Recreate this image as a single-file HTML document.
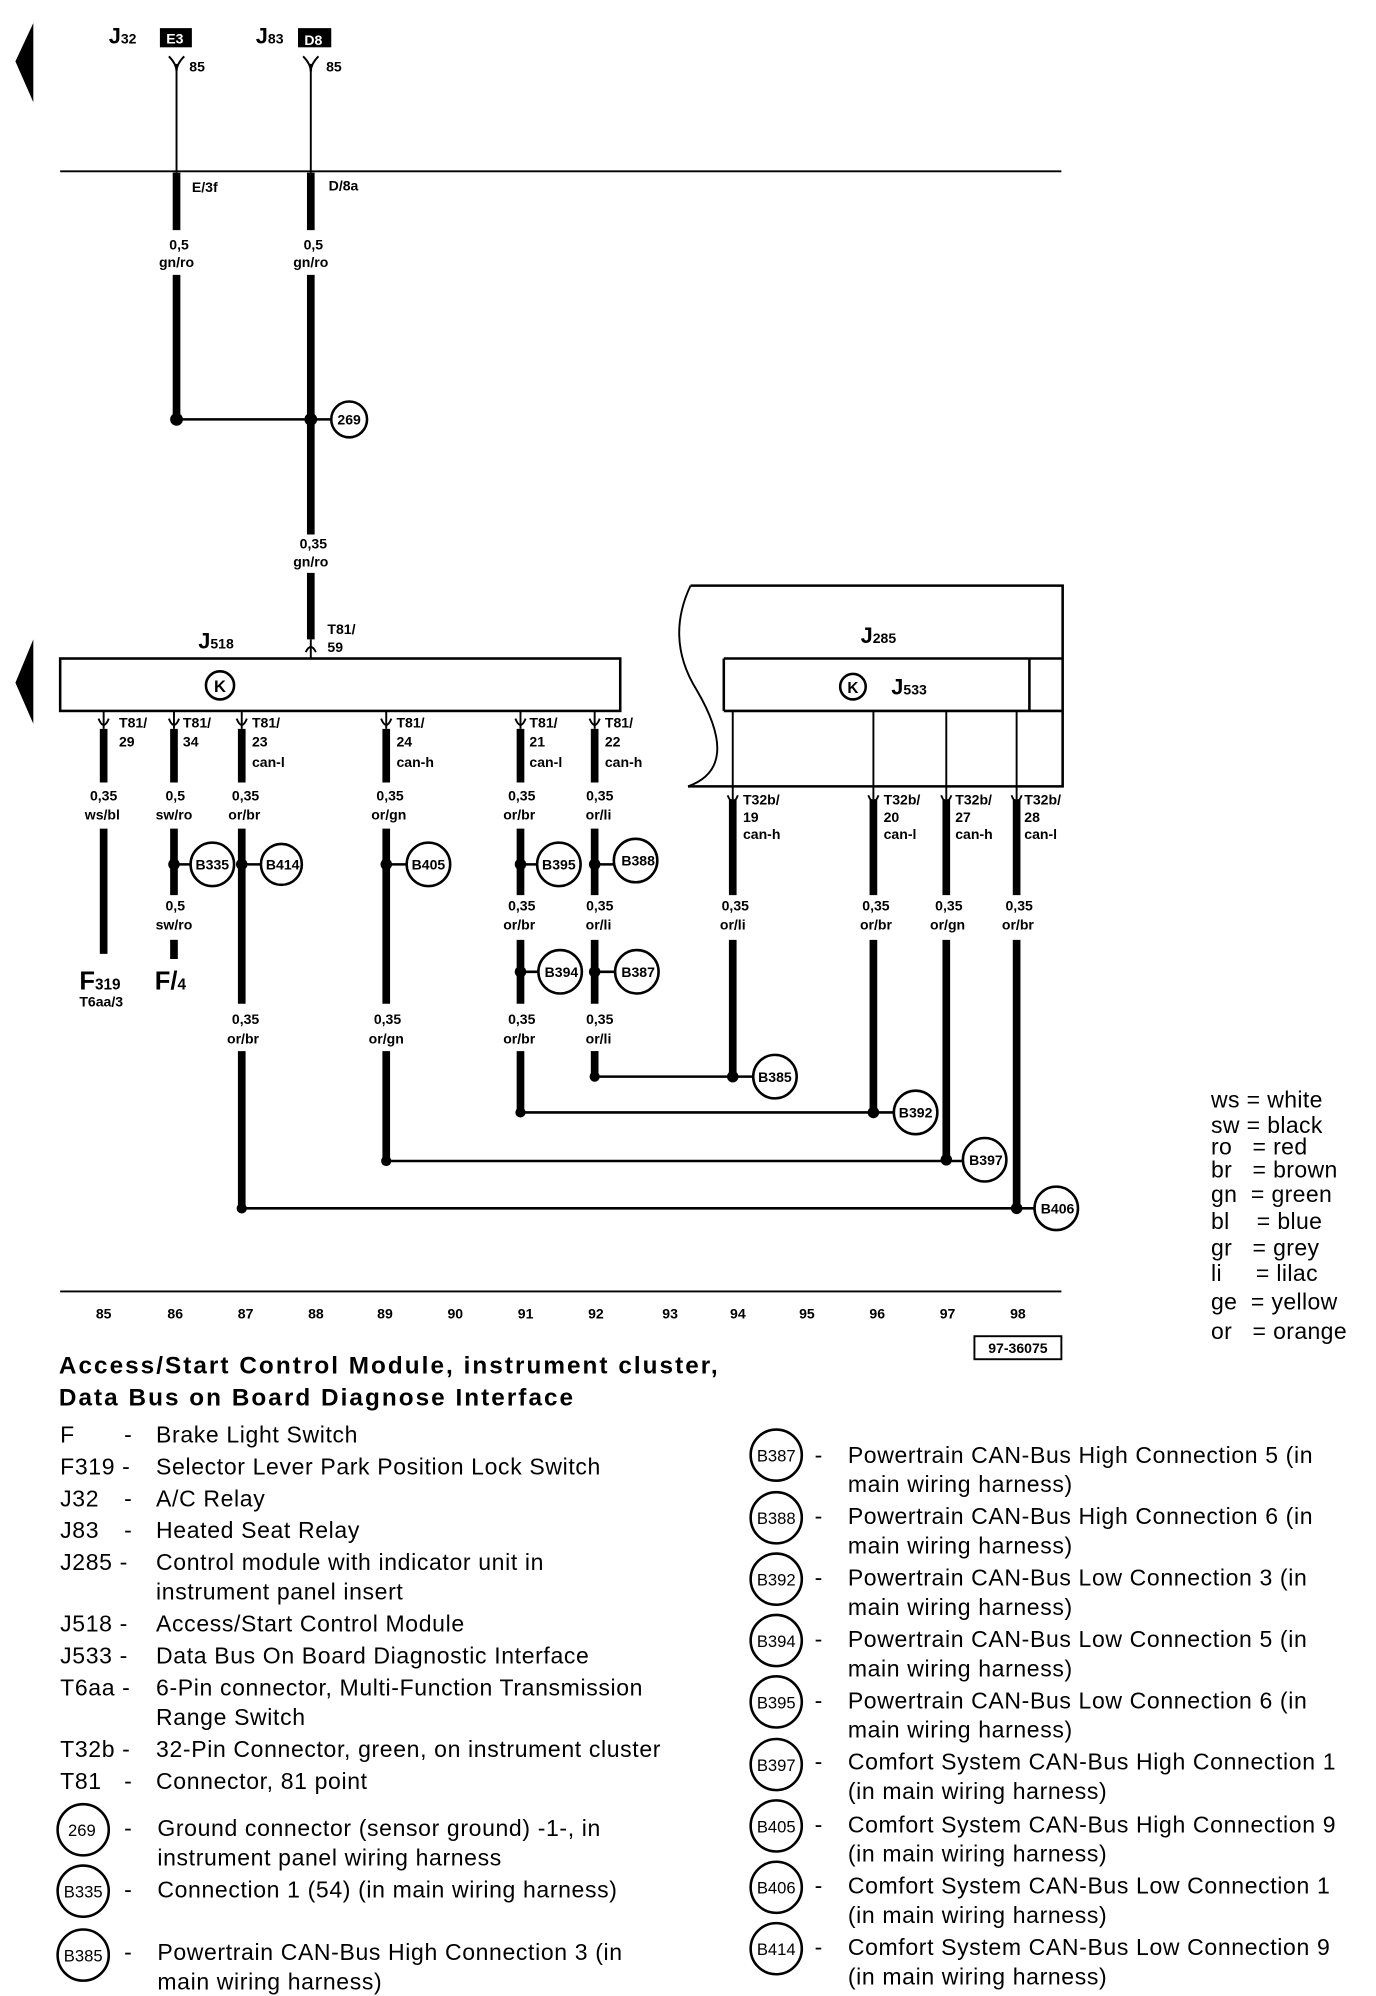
<!DOCTYPE html>
<html><head><meta charset="utf-8"><style>
html,body{margin:0;padding:0;background:#fff}
svg{display:block}
.b{font-family:"Liberation Sans",sans-serif;font-weight:bold;font-size:11px}
.l{font-family:"Liberation Sans",sans-serif;font-size:18px;letter-spacing:0.5px}
.c{font-family:"Liberation Sans",sans-serif;font-size:13px}
.t{font-family:"Liberation Sans",sans-serif;font-weight:bold;font-size:19px;letter-spacing:1.6px}
</style></head><body>
<svg width="1376" height="1996" viewBox="0 0 1076 1561" xmlns="http://www.w3.org/2000/svg">
<g fill="#000">
<polygon points="26,18 12,48 26,80"/>
<polygon points="26,500 12,534 26,566"/>
</g>
<text x="85" y="34" class="b" style="font-size:17px">J<tspan font-size="11">32</tspan></text>
<rect x="125" y="22" width="25" height="15" fill="#000"/><text x="130" y="34" class="b" fill="#fff">E3</text>
<text x="200" y="34" class="b" style="font-size:17px">J<tspan font-size="11">83</tspan></text>
<rect x="233" y="22" width="26" height="15" fill="#000"/><text x="238" y="35" class="b" fill="#fff">D8</text>
<g stroke="#000" fill="none" stroke-width="1.5">
<path d="M132,44 Q138,50 138,56 Q138,50 144,44"/>
<path d="M237,44 Q243,50 243,56 Q243,50 249,44"/>
<line x1="138" y1="50" x2="138" y2="135"/>
<line x1="243" y1="50" x2="243" y2="135"/>
<line x1="47" y1="134" x2="830" y2="134"/>
<line x1="47" y1="1010" x2="830" y2="1010"/>
</g>
<text x="148" y="56" class="b">85</text><text x="255" y="56" class="b">85</text>
<text x="150" y="150" class="b">E/3f</text><text x="257" y="149" class="b">D/8a</text>
<g stroke="#000" stroke-width="6">
<line x1="138" y1="135" x2="138" y2="180"/><line x1="138" y1="215" x2="138" y2="328"/>
<line x1="243" y1="135" x2="243" y2="180"/><line x1="243" y1="215" x2="243" y2="418"/>
<line x1="243" y1="448" x2="243" y2="500"/>
</g>
<g stroke="#000" stroke-width="2"><line x1="138" y1="328" x2="259" y2="328"/></g>
<circle cx="138" cy="328" r="5"/><circle cx="243" cy="328" r="5"/>
<circle cx="273" cy="328" r="14" fill="#fff" stroke="#000" stroke-width="2"/>
<text x="273" y="332" class="b" text-anchor="middle">269</text>
<g class="b" text-anchor="middle">
<text x="140" y="195">0,5</text><text x="138" y="209">gn/ro</text>
<text x="245" y="195">0,5</text><text x="243" y="209">gn/ro</text>
<text x="245" y="429">0,35</text><text x="243" y="443">gn/ro</text>
</g>
<rect x="47" y="515" width="438" height="41" fill="none" stroke="#000" stroke-width="2"/>
<text x="155" y="507" class="b" style="font-size:17px">J<tspan font-size="11">518</tspan></text>
<circle cx="172" cy="536" r="11" fill="none" stroke="#000" stroke-width="2"/>
<text x="172" y="541" class="b" text-anchor="middle" style="font-size:13px">K</text>
<line x1="243" y1="500" x2="243" y2="515" stroke="#000" stroke-width="1.5"/>
<path d="M239,510 Q243,502 247,510" stroke="#000" fill="none" stroke-width="1.5"/>
<text x="256" y="496" class="b">T81/</text><text x="256" y="510" class="b">59</text>
<g stroke="#000" fill="none" stroke-width="2">
<path d="M540,458 L831,458 L831,615 L538,615"/>
<path d="M540,458 Q520,500 545,540 Q580,600 538,615" stroke-width="1.5"/>
<line x1="566" y1="515" x2="831" y2="515"/><line x1="566" y1="556" x2="831" y2="556"/>
<line x1="566" y1="515" x2="566" y2="556"/><line x1="805" y1="515" x2="805" y2="556"/>
</g>
<text x="673" y="503" class="b" style="font-size:17px">J<tspan font-size="11">285</tspan></text>
<circle cx="667" cy="537" r="10" fill="none" stroke="#000" stroke-width="2"/>
<text x="667" y="542" class="b" text-anchor="middle" style="font-size:12px">K</text>
<text x="697" y="543" class="b" style="font-size:17px">J<tspan font-size="11">533</tspan></text>
<g stroke="#000" stroke-width="1.5">
<line x1="573" y1="556" x2="573" y2="625"/><line x1="683" y1="556" x2="683" y2="625"/>
<line x1="740" y1="556" x2="740" y2="625"/><line x1="795" y1="556" x2="795" y2="625"/>
</g>
<g stroke="#000" fill="none" stroke-width="1.5">
<path d="M77,562 Q81,572 85,562"/><path d="M132,562 Q136,572 140,562"/><path d="M185,562 Q189,572 193,562"/>
<path d="M298,562 Q302,572 306,562"/><path d="M403,562 Q407,572 411,562"/><path d="M461,562 Q465,572 469,562"/>
<path d="M569,622 Q573,632 577,622"/><path d="M679,622 Q683,632 687,622"/><path d="M736,622 Q740,632 744,622"/><path d="M791,622 Q795,632 799,622"/>
<line x1="81" y1="556" x2="81" y2="570"/><line x1="136" y1="556" x2="136" y2="570"/><line x1="189" y1="556" x2="189" y2="570"/>
<line x1="302" y1="556" x2="302" y2="570"/><line x1="407" y1="556" x2="407" y2="570"/><line x1="465" y1="556" x2="465" y2="570"/>
</g>
<g class="b">
<text x="93" y="569">T81/</text><text x="93" y="584">29</text>
<text x="143" y="569">T81/</text><text x="143" y="584">34</text>
<text x="197" y="569">T81/</text><text x="197" y="584">23</text><text x="197" y="600">can-l</text>
<text x="310" y="569">T81/</text><text x="310" y="584">24</text><text x="310" y="600">can-h</text>
<text x="414" y="569">T81/</text><text x="414" y="584">21</text><text x="414" y="600">can-l</text>
<text x="473" y="569">T81/</text><text x="473" y="584">22</text><text x="473" y="600">can-h</text>
<text x="581" y="629">T32b/</text><text x="581" y="643">19</text><text x="581" y="656">can-h</text>
<text x="691" y="629">T32b/</text><text x="691" y="643">20</text><text x="691" y="656">can-l</text>
<text x="747" y="629">T32b/</text><text x="747" y="643">27</text><text x="747" y="656">can-h</text>
<text x="801" y="629">T32b/</text><text x="801" y="643">28</text><text x="801" y="656">can-l</text>
</g>
<g stroke="#000" stroke-width="6">
<line x1="81" y1="570" x2="81" y2="612"/><line x1="81" y1="648" x2="81" y2="746"/>
<line x1="136" y1="570" x2="136" y2="612"/><line x1="136" y1="648" x2="136" y2="700"/><line x1="136" y1="735" x2="136" y2="750"/>
<line x1="189" y1="570" x2="189" y2="612"/><line x1="189" y1="648" x2="189" y2="785"/><line x1="189" y1="822" x2="189" y2="945"/>
<line x1="302" y1="570" x2="302" y2="612"/><line x1="302" y1="648" x2="302" y2="785"/><line x1="302" y1="822" x2="302" y2="908"/>
<line x1="407" y1="570" x2="407" y2="612"/><line x1="407" y1="648" x2="407" y2="700"/><line x1="407" y1="735" x2="407" y2="785"/><line x1="407" y1="822" x2="407" y2="870"/>
<line x1="465" y1="570" x2="465" y2="612"/><line x1="465" y1="648" x2="465" y2="700"/><line x1="465" y1="735" x2="465" y2="785"/><line x1="465" y1="822" x2="465" y2="842"/>
<line x1="573" y1="625" x2="573" y2="700"/><line x1="573" y1="735" x2="573" y2="842"/>
<line x1="683" y1="625" x2="683" y2="700"/><line x1="683" y1="735" x2="683" y2="870"/>
<line x1="740" y1="625" x2="740" y2="700"/><line x1="740" y1="735" x2="740" y2="907"/>
<line x1="795" y1="625" x2="795" y2="700"/><line x1="795" y1="735" x2="795" y2="945"/>
</g>
<g stroke="#000" stroke-width="2">
<line x1="465" y1="842" x2="590" y2="842"/><line x1="407" y1="870" x2="700" y2="870"/>
<line x1="302" y1="908" x2="754" y2="908"/><line x1="189" y1="945" x2="810" y2="945"/>
<line x1="136" y1="676" x2="150" y2="676"/><line x1="189" y1="676" x2="204" y2="676"/>
<line x1="302" y1="676" x2="318" y2="676"/><line x1="407" y1="676" x2="420" y2="676"/>
<line x1="465" y1="676" x2="480" y2="676"/><line x1="407" y1="760" x2="421" y2="760"/><line x1="465" y1="760" x2="481" y2="760"/>
</g>
<g>
<circle cx="136" cy="676" r="4.5"/><circle cx="189" cy="676" r="4.5"/><circle cx="302" cy="676" r="4.5"/>
<circle cx="407" cy="676" r="4.5"/><circle cx="465" cy="676" r="4.5"/><circle cx="407" cy="760" r="4.5"/><circle cx="465" cy="760" r="4.5"/>
<circle cx="573" cy="842" r="4.5"/><circle cx="683" cy="870" r="4.5"/><circle cx="740" cy="907" r="4.5"/><circle cx="795" cy="945" r="4.5"/>
<circle cx="465" cy="842" r="4"/><circle cx="407" cy="870" r="4"/><circle cx="302" cy="908" r="4"/><circle cx="189" cy="945" r="4"/>
</g>
<g fill="#fff" stroke="#000" stroke-width="2">
<circle cx="166" cy="676" r="17"/><circle cx="220" cy="676" r="16"/><circle cx="335" cy="676" r="17"/>
<circle cx="437" cy="676" r="17"/><circle cx="497" cy="673" r="17"/><circle cx="438" cy="760" r="17"/><circle cx="498" cy="760" r="17"/>
<circle cx="606" cy="842" r="17"/><circle cx="716" cy="870" r="17"/><circle cx="770" cy="907" r="17"/><circle cx="826" cy="945" r="17"/>
</g>
<g class="b" text-anchor="middle">
<text x="166" y="680">B335</text><text x="221" y="680">B414</text><text x="335" y="680">B405</text>
<text x="437" y="680">B395</text><text x="499" y="677">B388</text><text x="439" y="764">B394</text><text x="499" y="764">B387</text>
<text x="606" y="846">B385</text><text x="716" y="874">B392</text><text x="771" y="911">B397</text><text x="827" y="949">B406</text>
<text x="81" y="626">0,35</text><text x="80" y="641">ws/bl</text>
<text x="137" y="626">0,5</text><text x="136" y="641">sw/ro</text>
<text x="192" y="626">0,35</text><text x="191" y="641">or/br</text>
<text x="305" y="626">0,35</text><text x="304" y="641">or/gn</text>
<text x="408" y="626">0,35</text><text x="406" y="641">or/br</text>
<text x="469" y="626">0,35</text><text x="468" y="641">or/li</text>
<text x="137" y="712">0,5</text><text x="136" y="727">sw/ro</text>
<text x="408" y="712">0,35</text><text x="406" y="727">or/br</text>
<text x="469" y="712">0,35</text><text x="468" y="727">or/li</text>
<text x="192" y="801">0,35</text><text x="190" y="816">or/br</text>
<text x="303" y="801">0,35</text><text x="302" y="816">or/gn</text>
<text x="408" y="801">0,35</text><text x="406" y="816">or/br</text>
<text x="469" y="801">0,35</text><text x="468" y="816">or/li</text>
<text x="575" y="712">0,35</text><text x="573" y="727">or/li</text>
<text x="685" y="712">0,35</text><text x="685" y="727">or/br</text>
<text x="742" y="712">0,35</text><text x="741" y="727">or/gn</text>
<text x="797" y="712">0,35</text><text x="796" y="727">or/br</text>
</g>
<text x="62" y="774" class="b" style="font-size:20px">F<tspan font-size="12">319</tspan></text>
<text x="62" y="787" class="b">T6aa/3</text>
<text x="121" y="774" class="b" style="font-size:20px">F/<tspan font-size="12">4</tspan></text>
<g class="b" text-anchor="middle">
<text x="81" y="1031">85</text><text x="137" y="1031">86</text><text x="192" y="1031">87</text><text x="247" y="1031">88</text>
<text x="301" y="1031">89</text><text x="356" y="1031">90</text><text x="411" y="1031">91</text><text x="466" y="1031">92</text>
<text x="524" y="1031">93</text><text x="577" y="1031">94</text><text x="631" y="1031">95</text><text x="686" y="1031">96</text>
<text x="741" y="1031">97</text><text x="796" y="1031">98</text>
</g>
<rect x="762" y="1045" width="68" height="18" fill="none" stroke="#000" stroke-width="1.5"/>
<text x="796" y="1058" class="b" text-anchor="middle">97-36075</text>
<g class="l" style="letter-spacing:0.3px">
<text x="947" y="866">ws = white</text><text x="947" y="886">sw = black</text><text x="947" y="903">ro&#160;&#160;&#160;= red</text>
<text x="947" y="921">br&#160;&#160;&#160;= brown</text><text x="947" y="940">gn&#160;&#160;= green</text><text x="947" y="961">bl&#160;&#160;&#160;&#160;= blue</text>
<text x="947" y="982">gr&#160;&#160;&#160;= grey</text><text x="947" y="1002">li&#160;&#160;&#160;&#160;&#160;= lilac</text>
<text x="947" y="1024">ge&#160;&#160;= yellow</text><text x="947" y="1047">or&#160;&#160;&#160;= orange</text>
</g>
<text x="46" y="1074" class="t">Access/Start Control Module, instrument cluster,</text>
<text x="46" y="1099" class="t">Data Bus on Board Diagnose Interface</text>
<g class="l">
<text x="47" y="1128">F</text><text x="97" y="1128">-</text><text x="122" y="1128">Brake Light Switch</text>
<text x="47" y="1153">F319 -</text><text x="122" y="1153">Selector Lever Park Position Lock Switch</text>
<text x="47" y="1178">J32</text><text x="97" y="1178">-</text><text x="122" y="1178">A/C Relay</text>
<text x="47" y="1203">J83</text><text x="97" y="1203">-</text><text x="122" y="1203">Heated Seat Relay</text>
<text x="47" y="1228">J285 -</text><text x="122" y="1228">Control module with indicator unit in</text><text x="122" y="1251">instrument panel insert</text>
<text x="47" y="1276">J518 -</text><text x="122" y="1276">Access/Start Control Module</text>
<text x="47" y="1301">J533 -</text><text x="122" y="1301">Data Bus On Board Diagnostic Interface</text>
<text x="47" y="1326">T6aa -</text><text x="122" y="1326">6-Pin connector, Multi-Function Transmission</text><text x="122" y="1349">Range Switch</text>
<text x="47" y="1374">T32b -</text><text x="122" y="1374">32-Pin Connector, green, on instrument cluster</text>
<text x="47" y="1399">T81</text><text x="97" y="1399">-</text><text x="122" y="1399">Connector, 81 point</text>
<text x="97" y="1436">-</text><text x="123" y="1436">Ground connector (sensor ground) -1-, in</text><text x="123" y="1459">instrument panel wiring harness</text>
<text x="97" y="1484">-</text><text x="123" y="1484">Connection 1 (54) (in main wiring harness)</text>
<text x="97" y="1533">-</text><text x="123" y="1533">Powertrain CAN-Bus High Connection 3 (in</text><text x="123" y="1556">main wiring harness)</text>
</g>
<g fill="none" stroke="#000" stroke-width="2">
<circle cx="65" cy="1431" r="20"/><circle cx="65" cy="1479" r="20"/><circle cx="65" cy="1529" r="20"/>
<circle cx="607" cy="1138" r="20"/><circle cx="607" cy="1187" r="20"/><circle cx="607" cy="1235" r="20"/>
<circle cx="607" cy="1283" r="20"/><circle cx="607" cy="1331" r="20"/><circle cx="607" cy="1380" r="20"/>
<circle cx="607" cy="1428" r="20"/><circle cx="607" cy="1476" r="20"/><circle cx="607" cy="1524" r="20"/>
</g>
<g class="c" text-anchor="middle">
<text x="64" y="1436">269</text><text x="65" y="1484">B335</text><text x="65" y="1534">B385</text>
<text x="607" y="1143">B387</text><text x="607" y="1192">B388</text><text x="607" y="1240">B392</text>
<text x="607" y="1288">B394</text><text x="607" y="1336">B395</text><text x="607" y="1385">B397</text>
<text x="607" y="1433">B405</text><text x="607" y="1481">B406</text><text x="607" y="1529">B414</text>
</g>
<g class="l">
<text x="637" y="1144">-</text><text x="663" y="1144">Powertrain CAN-Bus High Connection 5 (in</text><text x="663" y="1167">main wiring harness)</text>
<text x="637" y="1192">-</text><text x="663" y="1192">Powertrain CAN-Bus High Connection 6 (in</text><text x="663" y="1215">main wiring harness)</text>
<text x="637" y="1240">-</text><text x="663" y="1240">Powertrain CAN-Bus Low Connection 3 (in</text><text x="663" y="1263">main wiring harness)</text>
<text x="637" y="1288">-</text><text x="663" y="1288">Powertrain CAN-Bus Low Connection 5 (in</text><text x="663" y="1311">main wiring harness)</text>
<text x="637" y="1336">-</text><text x="663" y="1336">Powertrain CAN-Bus Low Connection 6 (in</text><text x="663" y="1359">main wiring harness)</text>
<text x="637" y="1384">-</text><text x="663" y="1384">Comfort System CAN-Bus High Connection 1</text><text x="663" y="1407">(in main wiring harness)</text>
<text x="637" y="1433">-</text><text x="663" y="1433">Comfort System CAN-Bus High Connection 9</text><text x="663" y="1456">(in main wiring harness)</text>
<text x="637" y="1481">-</text><text x="663" y="1481">Comfort System CAN-Bus Low Connection 1</text><text x="663" y="1504">(in main wiring harness)</text>
<text x="637" y="1529">-</text><text x="663" y="1529">Comfort System CAN-Bus Low Connection 9</text><text x="663" y="1552">(in main wiring harness)</text>
</g>
</svg>
</body></html>
